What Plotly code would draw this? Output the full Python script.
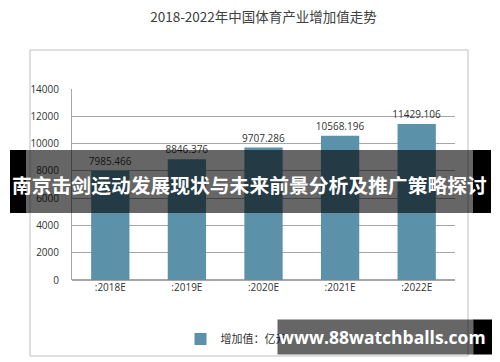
import plotly.graph_objects as go

categories = [":2018E", ":2019E", ":2020E", ":2021E", ":2022E"]
values = [7985.466, 8846.376, 9707.286, 10568.196, 11429.106]
labels = ["7985.466", "8846.376", "9707.286", "10568.196", "11429.106"]
y_ticks = [0, 2000, 4000, 6000, 8000, 10000, 12000, 14000]
y_tick_text = ["0", "2000", "4000", "6000", "8000", "10000", "12000", "14000"]

# page body adds an 8px offset; layout coordinates below are window pixels
OFF = 8
W, H = 500 - OFF, 362 - OFF
L, R, T, B = 72, 455, 89, 280


def px(x):
    return (x - L) / (R - L)


def py(y):
    return (B - y) / (B - T)


fig = go.Figure()
fig.add_trace(go.Bar(
    x=categories, y=values, name="增加值：亿元",
    marker=dict(color="#5B92AA", line=dict(width=0)),
    text=labels, textposition="outside", cliponaxis=False, constraintext="none",
    textfont=dict(family="Open Sans", size=10, color="#333333"),
))

shapes = [
    dict(type="rect", xref="paper", yref="paper", x0=px(30), x1=px(468), y0=py(50), y1=py(356),
         line=dict(color="#bfbfbf", width=1), fillcolor="rgba(0,0,0,0)", layer="below"),
    dict(type="rect", xref="paper", yref="paper", x0=px(26), x1=px(473), y0=py(150), y1=py(213),
         line=dict(width=0), fillcolor="rgba(0,0,0,0.6)", layer="above"),
    dict(type="rect", xref="paper", yref="paper", x0=px(10), x1=px(26), y0=py(150), y1=py(213),
         line=dict(width=0), fillcolor="#000000", layer="above"),
    dict(type="rect", xref="paper", yref="paper", x0=px(473), x1=px(491), y0=py(150), y1=py(213),
         line=dict(width=0), fillcolor="#000000", layer="above"),
]

annotations = [
    dict(text="南京击剑运动发展现状与未来前景分析及推广策略探讨", xref="paper", yref="paper",
         x=px(249), y=py(184), xanchor="center", yanchor="middle", showarrow=False,
         font=dict(family="Noto Sans CJK SC", size=19.8, color="#ffffff", weight="bold")),
    dict(text=" ", xref="paper", yref="paper", x=px(277), y=py(319), xanchor="left", yanchor="top",
         width=196, height=34, bgcolor="rgba(0,0,0,0.6)", borderpad=0, showarrow=False),
    dict(text=" ", xref="paper", yref="paper", x=px(473), y=py(319), xanchor="left", yanchor="top",
         width=18, height=34, bgcolor="#000000", borderpad=0, showarrow=False),
    dict(text="www.88watchballs.com", xref="paper", yref="paper", x=px(382), y=py(337),
         xanchor="center", yanchor="middle", showarrow=False,
         font=dict(family="Open Sans", size=17.5, color="#ffffff", weight="bold")),
]

fig.update_layout(
    width=W, height=H,
    margin=dict(l=L - OFF, r=500 - R, t=T - OFF, b=362 - B, pad=0, autoexpand=False),
    paper_bgcolor="#ffffff", plot_bgcolor="#ffffff",
    title=dict(text="2018-2022年中国体育产业增加值走势", x=0.5, xref="paper", xanchor="center",
               y=1 - (17 - OFF) / H, yref="container", yanchor="middle",
               font=dict(family="Noto Sans CJK SC", size=13.5, color="#404040")),
    bargap=0.5,
    showlegend=True,
    legend=dict(orientation="h", x=px(236), y=py(339), xanchor="center", yanchor="middle",
                font=dict(family="Noto Sans CJK SC", size=11, color="#333333"),
                bgcolor="rgba(0,0,0,0)", itemwidth=30),
    xaxis=dict(showgrid=False, showline=False, ticks="",
               tickfont=dict(family="Open Sans", size=10, color="#333333")),
    yaxis=dict(range=[0, 14000], tickmode="array", tickvals=y_ticks, ticktext=y_tick_text,
               showgrid=True, gridcolor="#a6a6a6", gridwidth=1,
               showline=True, linecolor="#a6a6a6", linewidth=1, zeroline=True, zerolinecolor="#a6a6a6",
               ticks="", ticklabelstandoff=10,
               tickfont=dict(family="Open Sans", size=10, color="#333333")),
    shapes=shapes, annotations=annotations,
)

fig.write_html("out.html")
